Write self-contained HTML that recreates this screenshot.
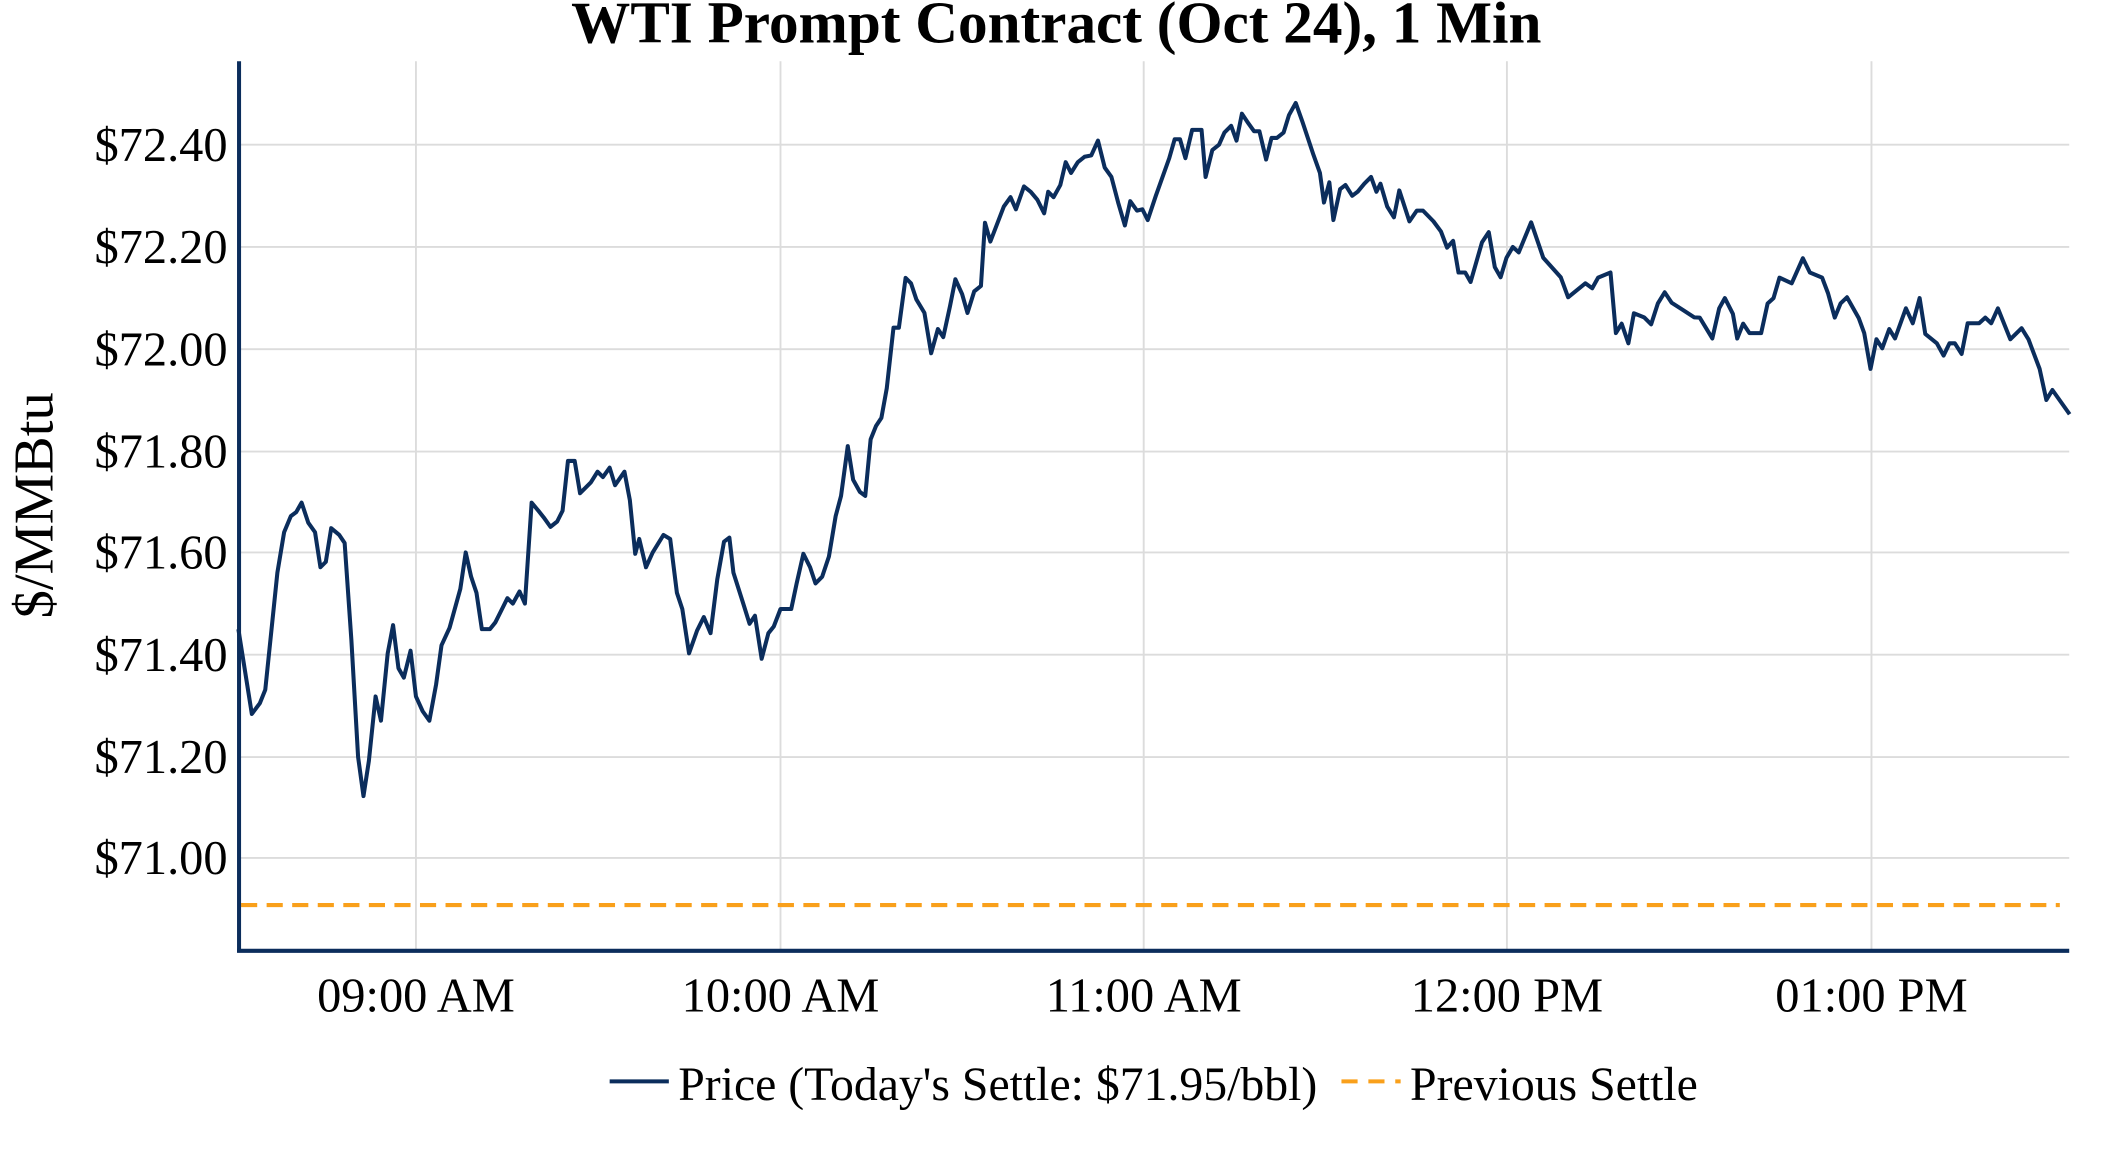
<!DOCTYPE html>
<html><head><meta charset="utf-8"><style>
html,body{margin:0;padding:0;background:#fff;}
svg{display:block;}
text{font-family:"Liberation Serif",serif;fill:#000;}
</style></head><body>
<svg width="2112" height="1152" viewBox="-1.2 -0.5 1570 856" preserveAspectRatio="none">
<rect x="-2" y="-2" width="1580" height="870" fill="#fff"/>
<text x="784" y="31" font-size="44" font-weight="bold" text-anchor="middle">WTI Prompt Contract (Oct 24), 1 Min</text>
<g stroke="#dcdcdc" stroke-width="1.4">
<line x1="308" y1="45" x2="308" y2="706"/><line x1="579" y1="45" x2="579" y2="706"/><line x1="849" y1="45" x2="849" y2="706"/><line x1="1119" y1="45" x2="1119" y2="706"/><line x1="1390" y1="45" x2="1390" y2="706"/>
<line x1="176" y1="107" x2="1537" y2="107"/><line x1="176" y1="183" x2="1537" y2="183"/><line x1="176" y1="259" x2="1537" y2="259"/><line x1="176" y1="335" x2="1537" y2="335"/><line x1="176" y1="410" x2="1537" y2="410"/><line x1="176" y1="486" x2="1537" y2="486"/><line x1="176" y1="562" x2="1537" y2="562"/><line x1="176" y1="637" x2="1537" y2="637"/>
</g>
<line x1="178" y1="672" x2="1530" y2="672" stroke="#f9a01b" stroke-width="3" stroke-dasharray="12,7"/>
<polyline fill="none" stroke="#0b2d5c" stroke-width="3" stroke-linejoin="round" points="176,467 186,530 192,522 196,512 205,425 210,395 215,383 219,380 223,373 228,388 233,395 237,421 241,417 245,392 251,397 255,403 260,475 265,562 269,591 273,565 278,517 282,535 287,485 291,464 295,496 299,503 304,483 308,517 313,528 318,535 323,508 327,479 333,466 341,437 345,410 349,428 353,440 357,467 363,467 367,462 372,452 376,444 380,448 385,439 389,448 394,373 399,379 403,384 408,391 413,387 417,379 421,342 426,342 430,366 434,362 438,358 443,350 447,354 452,347 456,360 463,350 467,371 471,411 474,400 479,421 484,410 492,397 497,400 502,440 506,452 511,485 517,468 522,458 527,470 532,430 537,402 541,399 544,425 551,447 556,463 560,457 565,489 570,470 574,465 579,452 587,452 591,433 596,411 601,421 605,433 610,428 615,413 620,383 624,368 629,331 633,356 638,365 642,368 646,326 650,316 654,310 658,288 663,243 667,243 672,206 676,210 680,222 686,232 691,262 696,244 700,250 705,227 709,207 714,218 718,232 723,216 728,212 731,165 735,179 740,166 745,153 750,146 754,155 760,138 765,142 770,148 775,158 778,142 782,146 787,137 791,120 795,128 800,120 805,116 810,115 815,104 820,124 825,131 830,150 835,167 839,149 844,156 848,155 852,163 858,145 868,117 872,103 876,103 880,117 885,96 892,96 895,131 900,111 905,107 909,98 914,93 918,104 922,84 926,90 931,97 935,97 940,118 944,102 948,102 953,98 957,85 962,76 967,90 975,114 980,128 983,150 987,135 990,163 995,140 999,137 1004,145 1008,142 1013,136 1018,131 1022,142 1025,136 1030,153 1035,161 1039,141 1046.5,164 1052,156 1056.6,156 1064.4,164 1070,171.6 1074.5,183.5 1079,178.5 1083,202 1088,202 1092,209 1100.5,179.5 1105.5,172 1110,198 1114.3,205.5 1118.7,191 1123.4,183 1127.8,187 1137,164.7 1146,191 1159,205.5 1164.5,220.4 1177.3,210 1182.4,213.7 1186.8,205.8 1196,202 1200,247 1204.3,240 1209.3,254.6 1213.4,232.3 1221,235.3 1226.2,240.5 1231.2,225 1236.3,216.7 1241.4,224.4 1249.8,229.8 1258.2,235.3 1262.3,235.5 1271.7,251 1276.8,228.6 1281,221 1287,232.8 1290.2,251 1294.6,240 1299.3,247 1308,247 1312.8,225 1317.2,221 1321.6,205.8 1330.7,210 1339,191.4 1344.2,202 1353.3,205.8 1357.7,217.4 1362.7,235.5 1367,225 1371.8,220.4 1380.6,236 1384.6,247 1389.3,273.6 1393.7,251.6 1398,258.3 1403.2,244 1407.5,251 1415.6,228.6 1420.7,239.7 1425.8,221 1430,247.6 1438.6,254.6 1443.6,263.7 1448,254.6 1452,254.6 1457,262.5 1461.5,239.7 1470,239.7 1474.6,235.5 1479,239.7 1484,228.6 1493.2,251.6 1501.6,243.4 1506.7,251.6 1515,273.6 1520,296.7 1524.5,289.3 1537.3,307.3"/>
<line x1="176.5" y1="45" x2="176.5" y2="707" stroke="#0b2d5c" stroke-width="3"/>
<line x1="175" y1="706" x2="1537" y2="706" stroke="#0b2d5c" stroke-width="3"/>
<g font-size="36" text-anchor="end">
<text x="168" y="119">$72.40</text><text x="168" y="195">$72.20</text><text x="168" y="271">$72.00</text><text x="168" y="347">$71.80</text><text x="168" y="422">$71.60</text><text x="168" y="498">$71.40</text><text x="168" y="574">$71.20</text><text x="168" y="649">$71.00</text>
</g>
<g font-size="36" text-anchor="middle">
<text x="308" y="751">09:00 AM</text><text x="579" y="751">10:00 AM</text><text x="849" y="751">11:00 AM</text><text x="1119" y="751">12:00 PM</text><text x="1390" y="751">01:00 PM</text>
</g>
<text transform="translate(38,375) rotate(-90)" font-size="42" text-anchor="middle">$/MMBtu</text>
<line x1="452" y1="803" x2="496" y2="803" stroke="#0b2d5c" stroke-width="3"/>
<text x="503" y="817" font-size="35.5">Price (Today's Settle: $71.95/bbl)</text>
<line x1="996" y1="803" x2="1040" y2="803" stroke="#f9a01b" stroke-width="3" stroke-dasharray="12,8"/>
<text x="1047" y="817" font-size="35.5">Previous Settle</text>
</svg>
</body></html>
